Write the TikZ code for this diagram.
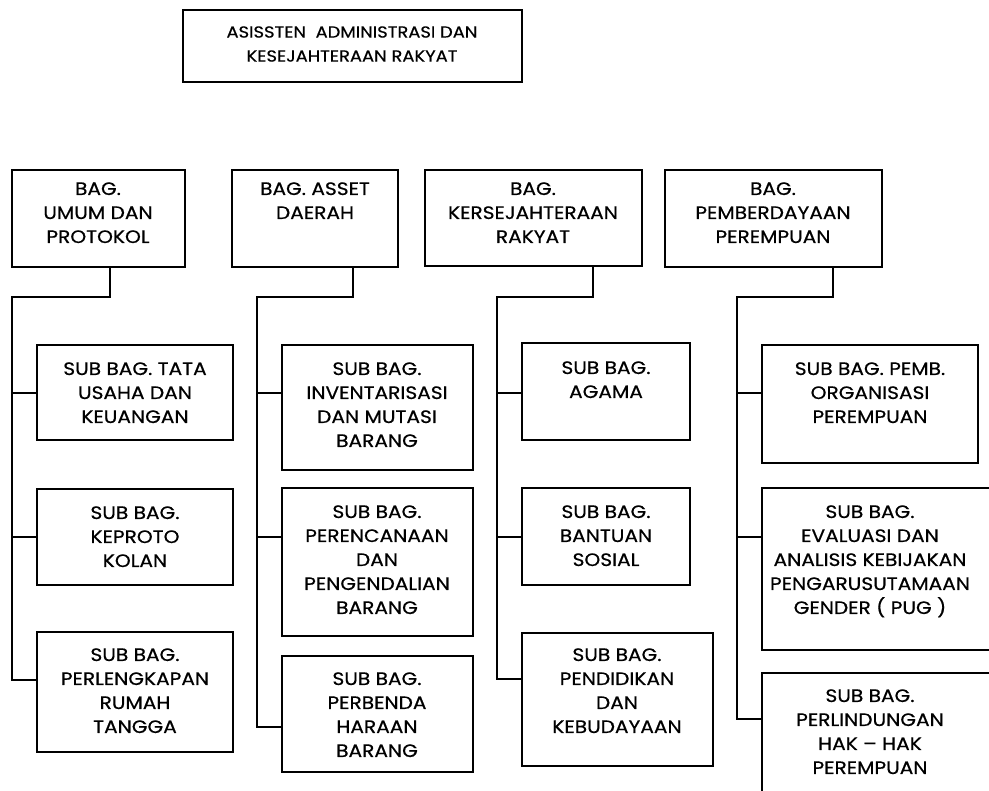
\documentclass[tikz,border=0pt]{standalone}
\usepackage{fontspec}
\setmainfont{Poppins}[FakeStretch=1.12, FakeBold=0.6]
\usetikzlibrary{fit}
\begin{document}
\begin{tikzpicture}[x=0.75pt,y=-0.75pt,
  bx/.style={draw, line width=1.2pt, inner sep=0pt},
  txt/.style={inner sep=0pt, align=center, font=\fontsize{13.5}{18}\selectfont},
  toptxt/.style={inner sep=0pt, align=center, font=\fontsize{12}{18}\selectfont},
  conn/.style={line width=1.2pt}]
\useasboundingbox (0,0) rectangle (989,790);
\clip (0,0) rectangle (989,790);
% top box
\node[bx, fit={(183,10)(522,82)}] (top) {};
\node[toptxt] (topt) at (352,44) {ASISSTEN\ \ ADMINISTRASI DAN\\KESEJAHTERAAN RAKYAT};
% bag boxes
\node[bx, fit={(12,170)(185,267)}] (b1) {};
\node[txt, anchor=north] (b1t) at (98,182) {BAG.\\UMUM DAN\\PROTOKOL};
\node[bx, fit={(232,170)(398,267)}] (b2) {};
\node[txt, anchor=north] (b2t) at (315,182) {BAG. ASSET\\DAERAH};
\node[bx, fit={(425,170)(642,266)}] (b3) {};
\node[txt, anchor=north] (b3t) at (533,182) {BAG.\\KERSEJAHTERAAN\\RAKYAT};
\node[bx, fit={(665,170)(882,267)}] (b4) {};
\node[txt, anchor=north] (b4t) at (773,182) {BAG.\\PEMBERDAYAAN\\PEREMPUAN};
% column 1
\node[bx, fit={(37,345)(233,440)}] (s11) {};
\node[txt, anchor=north] (s11t) at (135,362) {SUB BAG. TATA\\USAHA DAN\\KEUANGAN};
\node[bx, fit={(37,489)(233,585)}] (s12) {};
\node[txt, anchor=north] (s12t) at (135,506) {SUB BAG.\\KEPROTO\\KOLAN};
\node[bx, fit={(37,632)(233,752)}] (s13) {};
\node[txt, anchor=north] (s13t) at (135,648) {SUB BAG.\\PERLENGKAPAN\\RUMAH\\TANGGA};
% column 2
\node[bx, fit={(282,345)(473,470)}] (s21) {};
\node[txt, anchor=north] (s21t) at (377,362) {SUB BAG.\\INVENTARISASI\\DAN MUTASI\\BARANG};
\node[bx, fit={(282,488)(473,636)}] (s22) {};
\node[txt, anchor=north] (s22t) at (377,505) {SUB BAG.\\PERENCANAAN\\DAN\\PENGENDALIAN\\BARANG};
\node[bx, fit={(282,656)(473,772)}] (s23) {};
\node[txt, anchor=north] (s23t) at (377,672) {SUB BAG.\\PERBENDA\\HARAAN\\BARANG};
% column 3
\node[bx, fit={(522,343)(690,440)}] (s31) {};
\node[txt, anchor=north] (s31t) at (606,361) {SUB BAG.\\AGAMA};
\node[bx, fit={(522,488)(690,585)}] (s32) {};
\node[txt, anchor=north] (s32t) at (606,505) {SUB BAG.\\BANTUAN\\SOSIAL};
\node[bx, fit={(522,633)(713,766)}] (s33) {};
\node[txt, anchor=north] (s33t) at (617,648) {SUB BAG.\\PENDIDIKAN\\DAN\\KEBUDAYAAN};
% column 4
\node[bx, fit={(762,345)(978,463)}] (s41) {};
\node[txt, anchor=north] (s41t) at (870,362) {SUB BAG. PEMB.\\ORGANISASI\\PEREMPUAN};
\node[bx, fit={(762,488)(1000,650)}] (s42) {};
\node[txt, anchor=north] (s42t) at (870,505) {SUB BAG.\\EVALUASI DAN\\ANALISIS KEBIJAKAN\\PENGARUSUTAMAAN\\GENDER ( PUG )};
\node[bx, fit={(762,673)(1000,800)}] (s43) {};
\node[txt, anchor=north] (s43t) at (870,689) {SUB BAG.\\PERLINDUNGAN\\HAK -- HAK\\PEREMPUAN};
% junction coordinates
\coordinate (j1) at (110,297); \coordinate (k1) at (12,297);
\coordinate (j2) at (353,297); \coordinate (k2) at (257,297);
\coordinate (j3) at (593,297); \coordinate (k3) at (497,297);
\coordinate (j4) at (833,297); \coordinate (k4) at (737,297);
\coordinate (c11) at (37,393); \coordinate (c12) at (37,537); \coordinate (c13) at (37,680);
\coordinate (c21) at (282,393); \coordinate (c22) at (282,537); \coordinate (c23) at (282,727);
\coordinate (c31) at (522,393); \coordinate (c32) at (522,537); \coordinate (c33) at (522,679);
\coordinate (c41) at (762,393); \coordinate (c42) at (762,537); \coordinate (c43) at (762,719);
% connectors
\foreach \i in {1,2,3,4}{
  \draw[conn] (b\i.south -| j\i) -- (j\i) -- (k\i) -- (k\i |- c\i3) -- (c\i3);
  \draw[conn] (k\i |- c\i1) -- (c\i1);
  \draw[conn] (k\i |- c\i2) -- (c\i2);
}
\end{tikzpicture}
\end{document}
